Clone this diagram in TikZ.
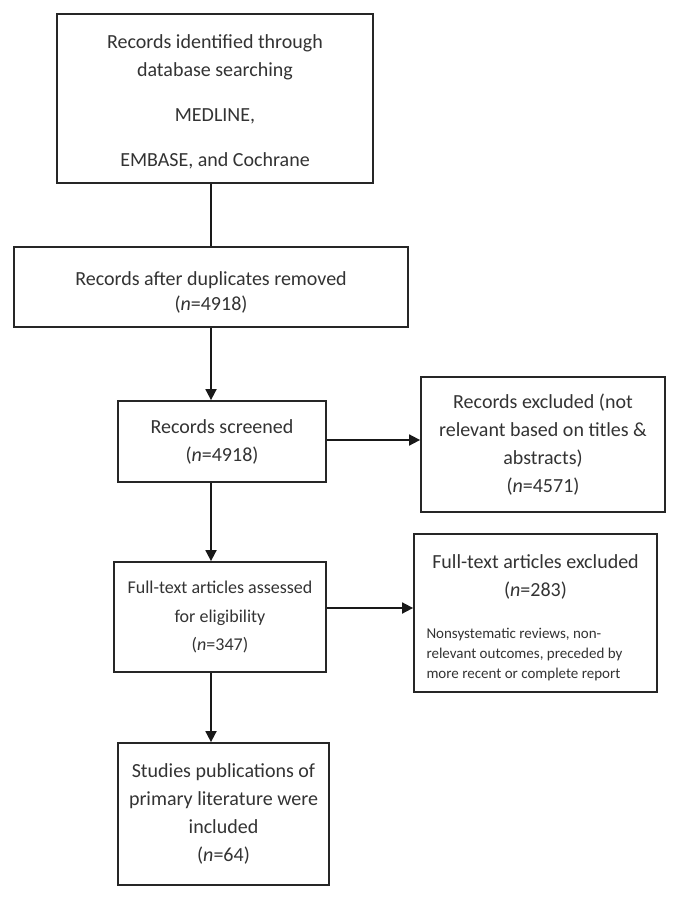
\documentclass[tikz,border=0pt]{standalone}
\usepackage{fontspec}
\setmainfont{Carlito}
\usetikzlibrary{arrows.meta,calc}
\begin{document}
\begin{tikzpicture}[x=1pt,y=-1pt,
  box/.style={draw=black!85,line width=1.8pt,inner sep=0pt,align=center,
    font=\fontsize{20}{28}\selectfont,text=black!80},
  conn/.style={line width=1.8pt,black!90},
  arr/.style={conn,-{Triangle[length=11pt,width=11pt]}}]
\useasboundingbox (0,0) rectangle (675,899);
\fill[white] (0,0) rectangle (675,899);
\coordinate (spine) at (211,0);
\node[box,minimum width=316,minimum height=169] (ident) at (215,98.5)
  {\rule{0pt}{21pt}Records identified through\\database searching\\[17pt]MEDLINE,\\[17pt]EMBASE, and Cochrane};
\node[box,minimum width=394,minimum height=80] (dup) at (211,287)
  {\rule{0pt}{25pt}Records after duplicates removed\\[-3pt](\textit{n}=4918)};
\node[box,minimum width=208,minimum height=81] (screen) at (222,441.5)
  {Records screened\\(\textit{n}=4918)};
\node[box,minimum width=244,minimum height=135] (excl1) at (543,444.5)
  {Records excluded (not\\relevant based on titles \&\\abstracts)\\(\textit{n}=4571)};
\node[box,minimum width=212,minimum height=110,font=\fontsize{18}{28.5}\selectfont] (full) at (220,617)
  {Full-text articles assessed\\for eligibility\\(\textit{n}=347)};
\node[box,minimum width=243,minimum height=158] (excl2) at (535.5,613)
  {\begin{minipage}{218pt}\centering\rule{0pt}{27pt}Full-text articles excluded\\(\textit{n}=283)\par\vspace{25pt}
   \raggedright\fontsize{15}{20}\selectfont\begin{tabular}{@{}l@{}}Nonsystematic reviews, non-\\relevant outcomes, preceded by\\more recent or complete report\end{tabular}\end{minipage}};
\node[box,minimum width=211,minimum height=142] (incl) at (223.5,814)
  {Studies publications of\\primary literature were\\included\\(\textit{n}=64)};
\draw[conn] (ident.south -| spine) -- (dup.north -| spine);
\draw[arr] (dup.south -| spine) -- (screen.north -| spine);
\draw[arr] ([yshift=1.5pt]screen.east) -- ([yshift=1.5pt]screen.east -| excl1.west);
\draw[arr] (screen.south -| spine) -- (full.north -| spine);
\draw[arr] ([yshift=9pt]full.east) -- ([yshift=9pt]full.east -| excl2.west);
\draw[arr] (full.south -| spine) -- (incl.north -| spine);
\end{tikzpicture}
\end{document}
